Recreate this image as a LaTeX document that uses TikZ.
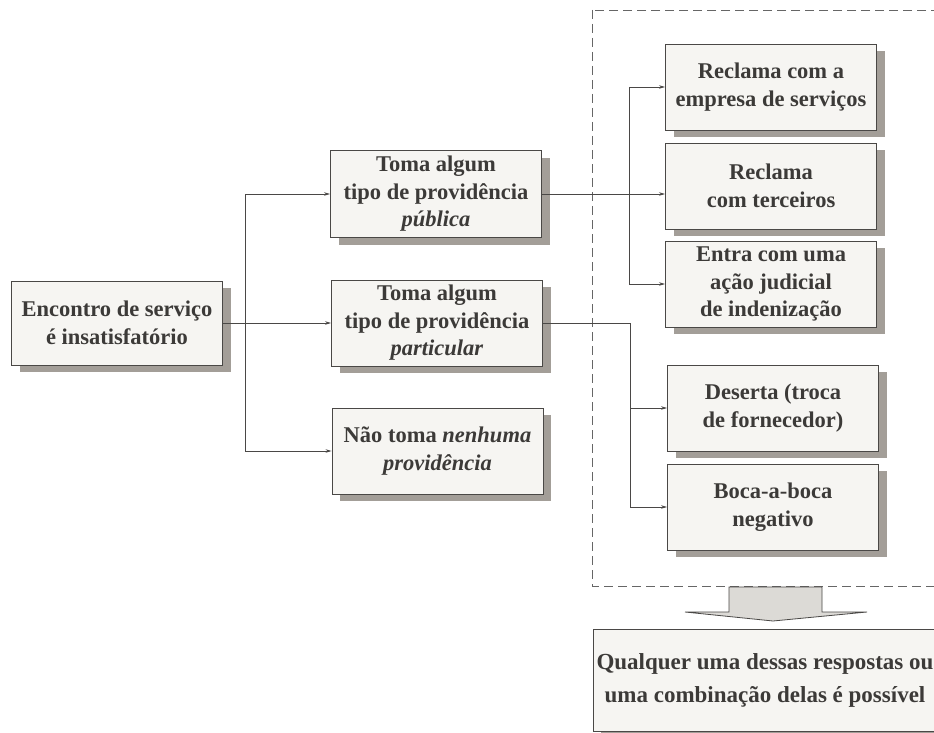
\documentclass[tikz,border=0pt]{standalone}
\usepackage{fontspec}
\setmainfont{Liberation Serif}
\usetikzlibrary{shadows,arrows.meta}
\definecolor{txtgray}{HTML}{3C3A38}
\definecolor{linegray}{HTML}{4A4846}
\definecolor{boxfill}{HTML}{F6F5F2}
\definecolor{shadegray}{HTML}{A39E98}
\definecolor{arrowfill}{HTML}{DCDAD6}
\tikzset{
  caixa/.style={draw=linegray, line width=0.9pt, fill=boxfill, text=txtgray,
    font=\fontsize{22.5}{27.5}\selectfont\bfseries, align=center,
    minimum width=211pt, minimum height=86pt, inner sep=0pt,
    drop shadow={shadow xshift=8pt, shadow yshift=-7pt, fill=shadegray, opacity=1}},
  fio/.style={draw=linegray, line width=0.8pt},
  liga/.style={fio, -{Stealth[length=6pt,width=3.5pt]}},
}
\begin{document}
\begin{tikzpicture}[x=1pt,y=-1pt]
\useasboundingbox[fill=white] (0,0) rectangle (934,733);
\clip (0,0) rectangle (934,733);
% 虚线框
\draw[gray!80!black, line width=0.9pt, dash pattern=on 9pt off 5pt] (592,10) rectangle (960,586);
\node[caixa, minimum height=84pt] (root) at (117,323) {Encontro de serviço\\é insatisfatório};
\node[caixa, minimum height=87pt] (pub) at (436,194) {Toma algum\\tipo de providência\\\textit{pública}};
\node[caixa] (part) at (437,323) {Toma algum\\tipo de providência\\\textit{particular}};
\node[caixa] (none) at (437.5,451) {Não toma \textit{nenhuma}\\\textit{providência}};
\node[caixa] (rec1) at (771,87) {Reclama com a\\empresa de serviços};
\node[caixa] (rec2) at (771,186) {Reclama\\com terceiros};
\node[caixa] (rec3) at (771,284) {Entra com uma\\ação judicial\\de indenização};
\node[caixa] (des) at (773,408) {Deserta (troca\\de fornecedor)};
\node[caixa] (boca) at (773,507) {Boca-a-boca\\negativo};
\node[caixa, drop shadow={opacity=0}, minimum width=344pt, minimum height=102pt,
  font=\fontsize{23}{33}\selectfont\bfseries] (final) at (765,680)
  {Qualquer uma dessas respostas ou\\uma combinação delas é possível};
\coordinate (tronco) at (245,0);
\coordinate (busa) at (629,0);
\coordinate (busb) at (630,0);
% 连接线
\draw[liga] (root.east) -- (part.west);
\draw[fio] (tronco |- pub.west) -- (tronco |- none.west);
\draw[liga] (tronco |- pub.west) -- (pub.west);
\draw[liga] (tronco |- none.west) -- (none.west);
\draw[liga] (pub.east) -- (pub.east -| rec2.west);
\draw[fio] (busa |- rec1.west) -- (busa |- rec3.west);
\draw[liga] (busa |- rec1.west) -- (rec1.west);
\draw[liga] (busa |- rec3.west) -- (rec3.west);
\draw[fio] (part.east) -| (busb |- boca.west);
\draw[liga] (busb |- des.west) -- (des.west);
\draw[liga] (busb |- boca.west) -- (boca.west);
\draw[fio, fill=arrowfill] (729,587) -- (729,612) -- (685,612) -- (773,621) -- (867,612) -- (822,612) -- (822,587) -- cycle;
\end{tikzpicture}
\end{document}
